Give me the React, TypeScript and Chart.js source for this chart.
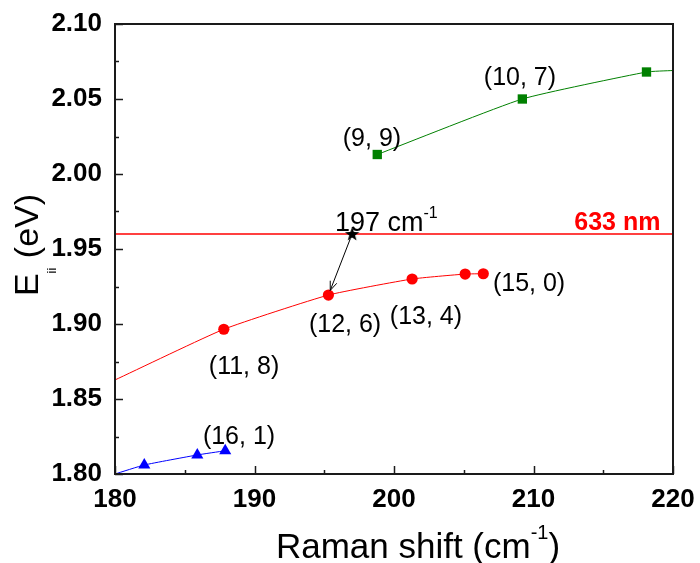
import React, { useEffect, useRef } from "react";
import { Chart, registerables } from "chart.js";

Chart.register(...registerables);

const FONT = "'Liberation Sans', Arial, Helvetica, sans-serif";

// Axis ranges / ticks
const xRange = [180, 220];
const yRange = [1.8, 2.1];
const xMajorStep = 10;
const xMinorStep = 5;
const yMajorStep = 0.05;
const yMinorStep = 0.025;

// Green family (markers + fitted curve)
const greenX = [198.8, 209.2, 218.1];
const greenY = [2.013, 2.05, 2.068];
const greenCurveX = [198.8, 209.2, 218.1, 220];
const greenCurveY = [2.013, 2.05, 2.068, 2.069];

// Red family
const redX = [187.8, 195.3, 201.3, 205.1, 206.4];
const redY = [1.8965, 1.9193, 1.93, 1.9333, 1.9335];
const redCurveX = [180, 187.8, 195.3, 201.3, 205.1, 206.4];
const redCurveY = [1.8627, 1.8965, 1.9193, 1.93, 1.9333, 1.9335];

// Blue family
const blueX = [182.1, 185.9, 187.9];
const blueY = [1.806, 1.8127, 1.8155];
const blueCurveX = [180, 182.1, 185.9, 187.9];
const blueCurveY = [1.8, 1.806, 1.8127, 1.8155];

// 633 nm laser line
const laserX = [180, 220];
const laserY = [1.96, 1.96];

// Star (197 cm-1)
const starX = [197.0];
const starY = [1.96];

// Chirality labels (anchor in data coordinates, text centre)
const labelTexts = ["(9, 9)", "(10, 7)", "(11, 8)", "(12, 6)", "(13, 4)", "(15, 0)", "(16, 1)"];
const labelX = [198.42, 209.03, 189.25, 196.49, 202.29, 209.68, 188.89];
const labelY = [2.0233, 2.064, 1.8713, 1.8993, 1.9047, 1.9267, 1.8247];

const toXY = (xs: number[], ys: number[]) => xs.map((x, i) => ({ x, y: ys[i] }));

function makeStar(): HTMLCanvasElement {
  const c = document.createElement("canvas");
  c.width = 16;
  c.height = 16;
  const g = c.getContext("2d")!;
  g.fillStyle = "#000";
  g.beginPath();
  const cx = 8, cy = 8.5, R = 7.5, r = 3.1;
  for (let i = 0; i < 10; i++) {
    const ang = -Math.PI / 2 + (i * Math.PI) / 5;
    const rad = i % 2 === 0 ? R : r;
    const px = cx + rad * Math.cos(ang);
    const py = cy + rad * Math.sin(ang);
    if (i === 0) g.moveTo(px, py);
    else g.lineTo(px, py);
  }
  g.closePath();
  g.fill();
  return c;
}

type Part = { t: string; size: number; bold?: boolean; dy?: number; color?: string };

function drawRich(ctx: CanvasRenderingContext2D, parts: Part[], x: number, y: number, align: "left" | "center" | "right") {
  let total = 0;
  const widths = parts.map((p) => {
    ctx.font = `${p.bold ? "bold " : ""}${p.size}px ${FONT}`;
    const w = ctx.measureText(p.t).width;
    total += w;
    return w;
  });
  let cx = align === "left" ? x : align === "center" ? x - total / 2 : x - total;
  ctx.textAlign = "left";
  ctx.textBaseline = "alphabetic";
  parts.forEach((p, i) => {
    ctx.font = `${p.bold ? "bold " : ""}${p.size}px ${FONT}`;
    ctx.fillStyle = p.color || "#000";
    ctx.fillText(p.t, cx, y + (p.dy || 0));
    cx += widths[i];
  });
}

const decorPlugin = {
  id: "decor",
  beforeDatasetsDraw(chart: any) {
    const { ctx } = chart;
    const xs = chart.scales.x;
    const ys = chart.scales.y;
    const a = chart.chartArea;
    ctx.save();
    ctx.strokeStyle = "#1a1a1a";
    ctx.lineWidth = 1.5;
    for (let v = xRange[0]; v <= xRange[1] + 1e-9; v += xMinorStep) {
      const px = Math.round(xs.getPixelForValue(v)) + 0.5;
      const major = Math.abs(v / xMajorStep - Math.round(v / xMajorStep)) < 1e-6;
      const len = major ? 8 : 4;
      ctx.beginPath();
      ctx.moveTo(px, a.bottom);
      ctx.lineTo(px, a.bottom - len);
      ctx.stroke();
    }
    for (let i = 0; i <= Math.round((yRange[1] - yRange[0]) / yMinorStep); i++) {
      const v = yRange[0] + i * yMinorStep;
      const py = Math.round(ys.getPixelForValue(v)) + 0.5;
      const major = i % 2 === 0;
      const len = major ? 8 : 4;
      ctx.beginPath();
      ctx.moveTo(a.left, py);
      ctx.lineTo(a.left + len, py);
      ctx.stroke();
    }
    ctx.restore();
  },
  afterDatasetsDraw(chart: any) {
    const { ctx } = chart;
    const xs = chart.scales.x;
    const ys = chart.scales.y;
    const a = chart.chartArea;
    ctx.save();
    ctx.strokeStyle = "#1a1a1a";
    ctx.lineWidth = 2;
    ctx.strokeRect(a.left, a.top, a.right - a.left, a.bottom - a.top);

    // arrow from star to (12,6) point
    const sx = xs.getPixelForValue(starX[0]);
    const sy = ys.getPixelForValue(starY[0]);
    const tx = xs.getPixelForValue(redX[1]);
    const ty = ys.getPixelForValue(redY[1]);
    const dx = tx - sx, dy = ty - sy;
    const L = Math.hypot(dx, dy);
    const ux = dx / L, uy = dy / L;
    const x0 = sx + ux * 5, y0 = sy + uy * 5;
    const x1 = tx - ux * 5, y1 = ty - uy * 5;
    ctx.strokeStyle = "#000";
    ctx.lineWidth = 1;
    ctx.beginPath();
    ctx.moveTo(x0, y0);
    ctx.lineTo(x1, y1);
    ctx.stroke();
    const ah = 9, aw = 3.5;
    const bx = x1 - ux * ah, by = y1 - uy * ah;
    ctx.beginPath();
    ctx.moveTo(bx - uy * aw, by + ux * aw);
    ctx.lineTo(x1, y1);
    ctx.lineTo(bx + uy * aw, by - ux * aw);
    ctx.stroke();

    // chirality labels
    ctx.textAlign = "center";
    ctx.textBaseline = "middle";
    ctx.fillStyle = "#000";
    ctx.font = `25px ${FONT}`;
    labelTexts.forEach((t, i) => {
      ctx.fillText(t, xs.getPixelForValue(labelX[i]), ys.getPixelForValue(labelY[i]));
    });

    // 197 cm-1
    drawRich(ctx, [
      { t: "197 cm", size: 27 },
      { t: "-1", size: 16, dy: -13 },
    ], xs.getPixelForValue(195.77), ys.getPixelForValue(1.9617), "left");

    // 633 nm
    drawRich(ctx, [{ t: "633 nm", size: 25, bold: true, color: "#ff0000" }],
      xs.getPixelForValue(219.1), ys.getPixelForValue(1.9627), "right");

    // x-axis title
    drawRich(ctx, [
      { t: "Raman shift (cm", size: 35 },
      { t: "-1", size: 20, dy: -19 },
      { t: ")", size: 35 },
    ], 418, 558, "center");

    // y-axis title (rotated)
    ctx.save();
    ctx.translate(38, 245);
    ctx.rotate(-Math.PI / 2);
    drawRich(ctx, [
      { t: "E", size: 34 },
      { t: "ii", size: 13, dy: 18 },
      { t: " (eV)", size: 34 },
    ], 0, 0, "center");
    ctx.restore();

    ctx.restore();
  },
};

const zeroPad = (s: any) => {
  s.paddingTop = 0;
  s.paddingBottom = 0;
  s.paddingLeft = 0;
  s.paddingRight = 0;
};

export default function App() {
  const ref = useRef<HTMLCanvasElement | null>(null);
  useEffect(() => {
    if (!ref.current) return;
    const star = makeStar();
    const chart = new Chart(ref.current, {
      type: "scatter",
      data: {
        datasets: [
          { data: toXY(greenX, greenY), pointStyle: "rect", pointRadius: 6.6, backgroundColor: "#008000", borderColor: "#008000", borderWidth: 0, showLine: false, order: 0 },
          { data: toXY(redX, redY), pointStyle: "circle", pointRadius: 5.6, backgroundColor: "#ff0000", borderColor: "#ff0000", borderWidth: 0, showLine: false, order: 0 },
          { data: toXY(blueX, blueY), pointStyle: "triangle", pointRadius: 7, backgroundColor: "#0000ff", borderColor: "#0000ff", borderWidth: 0, showLine: false, order: 0 },
          { data: toXY(starX, starY), pointStyle: star as any, pointRadius: 8, showLine: false, order: 0 },
          { data: toXY(greenCurveX, greenCurveY), showLine: true, pointRadius: 0, borderColor: "#008000", borderWidth: 1, tension: 0.15, order: 1 },
          { data: toXY(redCurveX, redCurveY), showLine: true, pointRadius: 0, borderColor: "#ff0000", borderWidth: 1, tension: 0.15, order: 1 },
          { data: toXY(blueCurveX, blueCurveY), showLine: true, pointRadius: 0, borderColor: "#0000ff", borderWidth: 1, tension: 0.15, order: 1 },
          { data: toXY(laserX, laserY), showLine: true, pointRadius: 0, borderColor: "#ff0000", borderWidth: 1.5, order: 2 },
        ],
      },
      options: {
        responsive: false,
        animation: false,
        devicePixelRatio: 1,
        layout: { padding: { left: 0, top: 24, right: 27, bottom: 0 } },
        plugins: { legend: { display: false }, tooltip: { enabled: false } },
        elements: { point: { hoverRadius: 0 } },
        scales: {
          x: {
            type: "linear",
            min: xRange[0],
            max: xRange[1],
            grid: { display: false, drawTicks: false },
            border: { display: false },
            ticks: {
              stepSize: xMajorStep,
              padding: 10,
              color: "#000",
              font: { family: FONT, size: 26, weight: "bold" },
              callback: (v: any) => String(v),
            },
            afterFit: (s: any) => { s.height = 89; zeroPad(s); },
          },
          y: {
            type: "linear",
            min: yRange[0],
            max: yRange[1],
            grid: { display: false, drawTicks: false },
            border: { display: false },
            ticks: {
              stepSize: yMajorStep,
              padding: 13,
              color: "#000",
              font: { family: FONT, size: 26, weight: "bold" },
              callback: (v: any) => Number(v).toFixed(2),
            },
            afterFit: (s: any) => { s.width = 115; zeroPad(s); },
          },
        },
      } as any,
      plugins: [decorPlugin],
    });
    return () => chart.destroy();
  }, []);
  return (
    <div style={{ position: "absolute", left: 0, top: 0, width: 700, height: 563, background: "#fff" }}>
      <canvas ref={ref} width={700} height={563} style={{ display: "block" }} />
    </div>
  );
}
